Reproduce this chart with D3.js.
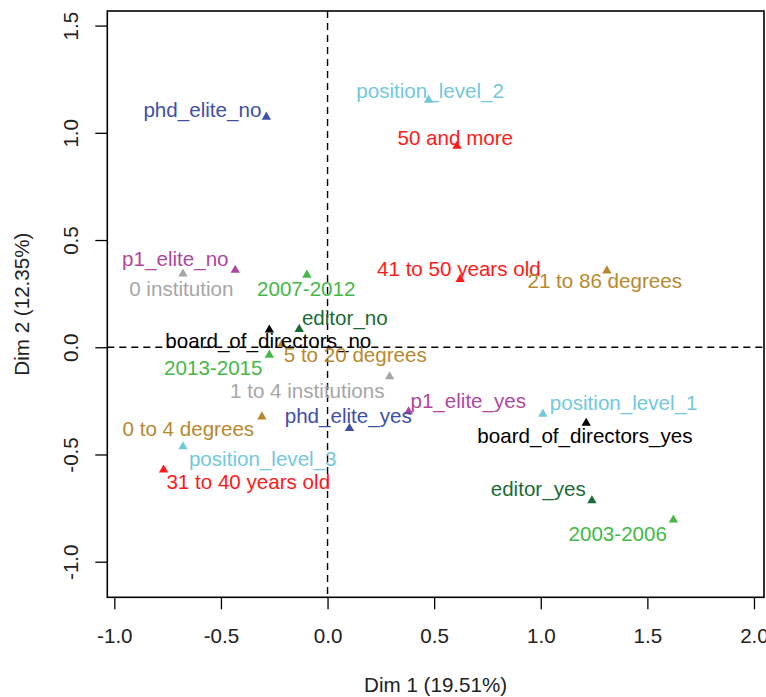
<!DOCTYPE html>
<html>
<head>
<meta charset="utf-8">
<script src="https://cdn.jsdelivr.net/npm/d3@7"></script>
<style>
  html, body { margin: 0; padding: 0; background: #fff; }
  svg text { font-family: "Liberation Sans", Arial, sans-serif; }
</style>
</head>
<body>
<div id="chart"></div>
<script>
// ── Data: MCA category coordinates (Dim 1, Dim 2) ──
const labels = [
  "phd_elite_no", "position_level_2", "50 and more", "p1_elite_no", "0 institution",
  "2007-2012", "41 to 50 years old", "21 to 86 degrees", "board_of_directors_no", "editor_no",
  "5 to 20 degrees", "2013-2015", "1 to 4 institutions", "0 to 4 degrees", "phd_elite_yes",
  "p1_elite_yes", "position_level_1", "board_of_directors_yes", "position_level_3",
  "31 to 40 years old", "editor_yes", "2003-2006"
];
const groups = [
  "phd", "position", "age", "p1", "inst",
  "year", "age", "degrees", "board", "editor",
  "degrees", "year", "inst", "degrees", "phd",
  "p1", "position", "board", "position",
  "age", "editor", "year"
];
const dim1 = [
  -0.287, 0.474, 0.607, -0.433, -0.678,
  -0.097, 0.622, 1.310, -0.273, -0.133,
  -0.214, -0.273, 0.291, -0.308, 0.103,
  0.380, 1.010, 1.213, -0.678,
  -0.769, 1.240, 1.622
];
const dim2 = [
  1.074, 1.153, 0.938, 0.360, 0.342,
  0.337, 0.317, 0.357, 0.081, 0.084,
  0.015, -0.036, -0.137, -0.324, -0.378,
  -0.300, -0.311, -0.354, -0.463,
  -0.572, -0.715, -0.805
];
// label anchor positions (repelled), in the same Dim 1 / Dim 2 units
const labelDim1 = [
  -0.587, 0.481, 0.599, -0.714, -0.686,
  -0.100, 0.616, 1.300, -0.278, 0.081,
  0.130, -0.536, -0.095, -0.653, 0.097,
  0.660, 1.389, 1.207, -0.304,
  -0.372, 0.988, 1.361
];
const labelDim2 = [
  1.109, 1.197, 0.978, 0.414, 0.272,
  0.272, 0.365, 0.309, 0.032, 0.139,
  -0.036, -0.094, -0.201, -0.381, -0.318,
  -0.248, -0.257, -0.411, -0.518,
  -0.626, -0.658, -0.868
];
const groupNames  = ["phd", "position", "age", "p1", "inst", "year", "degrees", "board", "editor"];
const groupColors = ["#3F4FA8", "#73C8DA", "#FF1A1A", "#B0479F", "#A6A6A6", "#45B847", "#B8892F", "#000000", "#1B6B35"];
const xTicks = [-1.0, -0.5, 0.0, 0.5, 1.0, 1.5, 2.0];
const yTicks = [-1.0, -0.5, 0.0, 0.5, 1.0, 1.5];
const xTitle = "Dim 1 (19.51%)";
const yTitle = "Dim 2 (12.35%)";

// ── Layout ──
const W = 766, H = 697;
const box = { left: 107.3, right: 764, top: 11, bottom: 597.3 };
const FONT = 20.6;

const svg = d3.select("#chart").append("svg").attr("width", W).attr("height", H);

const x = d3.scaleLinear().domain([-1.033, 2.047]).range([box.left, box.right]);
const y = d3.scaleLinear().domain([-1.166, 1.568]).range([box.bottom, box.top]);
const color = d3.scaleOrdinal().domain(groupNames).range(groupColors);
const fmt = d => d.toFixed(1);

// Axes
const xAxis = svg.append("g").attr("transform", `translate(0,${box.bottom})`)
  .call(d3.axisBottom(x).tickValues(xTicks).tickFormat(fmt).tickSize(12).tickSizeOuter(0));
xAxis.select(".domain").remove();
xAxis.selectAll(".tick line").attr("stroke", "#000").attr("stroke-width", 1.3);
xAxis.selectAll(".tick text").attr("font-size", FONT).attr("fill", "#222")
  .attr("y", 0).attr("dy", 0).attr("transform", "translate(0,45.5)");

const yAxis = svg.append("g").attr("transform", `translate(${box.left},0)`)
  .call(d3.axisLeft(y).tickValues(yTicks).tickFormat(fmt).tickSize(12).tickSizeOuter(0));
yAxis.select(".domain").remove();
yAxis.selectAll(".tick line").attr("stroke", "#000").attr("stroke-width", 1.3);
yAxis.selectAll(".tick text").attr("font-size", FONT).attr("fill", "#222")
  .attr("x", 0).attr("dy", 0).attr("text-anchor", "middle")
  .attr("transform", "translate(-29,0) rotate(-90)");

// Plot box
svg.append("rect")
  .attr("x", box.left).attr("y", box.top)
  .attr("width", box.right - box.left).attr("height", box.bottom - box.top)
  .attr("fill", "none").attr("stroke", "#000").attr("stroke-width", 1.6);

// Dashed origin lines
svg.append("line")
  .attr("x1", box.left).attr("x2", box.right).attr("y1", y(0)).attr("y2", y(0))
  .attr("stroke", "#000").attr("stroke-width", 1.4).attr("stroke-dasharray", "7,5");
svg.append("line")
  .attr("x1", x(0)).attr("x2", x(0)).attr("y1", box.top).attr("y2", box.bottom)
  .attr("stroke", "#000").attr("stroke-width", 1.4).attr("stroke-dasharray", "7,5");

// Axis titles
svg.append("text").attr("x", (box.left + box.right) / 2).attr("y", 692)
  .attr("text-anchor", "middle").attr("font-size", FONT).attr("fill", "#222").text(xTitle);
svg.append("text").attr("transform", `translate(29,${(box.top + box.bottom) / 2}) rotate(-90)`)
  .attr("text-anchor", "middle").attr("font-size", FONT).attr("fill", "#222").text(yTitle);

// Points
const idx = d3.range(labels.length);
const tri = d3.symbol().type(d3.symbolTriangle).size(38);
svg.append("g").selectAll("path").data(idx).join("path")
  .attr("d", tri)
  .attr("transform", i => `translate(${x(dim1[i])},${y(dim2[i])})`)
  .attr("fill", i => color(groups[i]));

// Labels
svg.append("g").selectAll("text").data(idx).join("text")
  .attr("x", i => x(labelDim1[i]))
  .attr("y", i => y(labelDim2[i]))
  .attr("dy", "0.36em")
  .attr("text-anchor", "middle")
  .attr("font-size", FONT)
  .attr("fill", i => color(groups[i]))
  .text(i => labels[i]);
</script>
</body>
</html>
